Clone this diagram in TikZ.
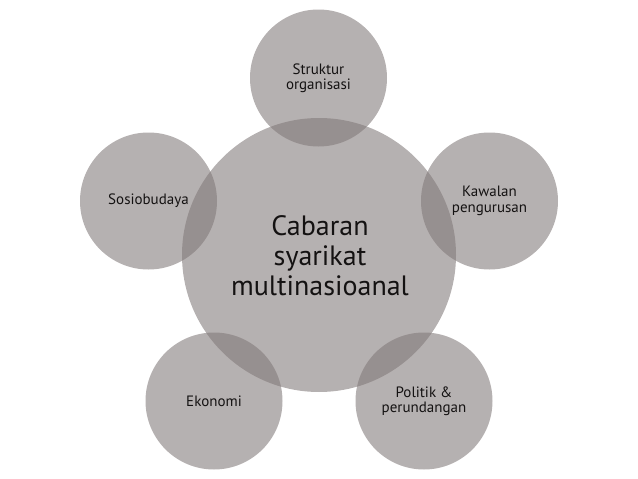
\documentclass[tikz,border=0pt]{standalone}
\usepackage{fontspec}
\setmainfont{PT Sans}
\definecolor{bubble}{RGB}{128,120,120}
\definecolor{ink}{RGB}{20,18,18}
\begin{document}
\begin{tikzpicture}[x=1pt,y=-1pt,
  bubble/.style={circle,fill=bubble,fill opacity=0.58,text opacity=1,draw=none,inner sep=0pt},
  small/.style={bubble,minimum size=137pt,font=\fontsize{15}{15.5}\selectfont,text=ink,align=center},
  big/.style={bubble,minimum size=274pt}]
\useasboundingbox (0,0) rectangle (638,479);
\node[big] (c) at (319,255) {};
\node[small] (a) at (318.5,78) {Struktur\\organisasi};
\node[small] (b) at (489.5,201) {Kawalan\\pengurusan};
\node[small] (d) at (424,401) {Politik \&\\perundangan};
\node[small] (e) at (214,401) {Ekonomi};
\node[small] (f) at (148.5,201) {Sosiobudaya};
\node[font=\fontsize{28}{30}\selectfont,text=ink,align=center] (ct) at (320,256) {Cabaran\\syarikat\\multinasioanal};
\end{tikzpicture}
\end{document}
